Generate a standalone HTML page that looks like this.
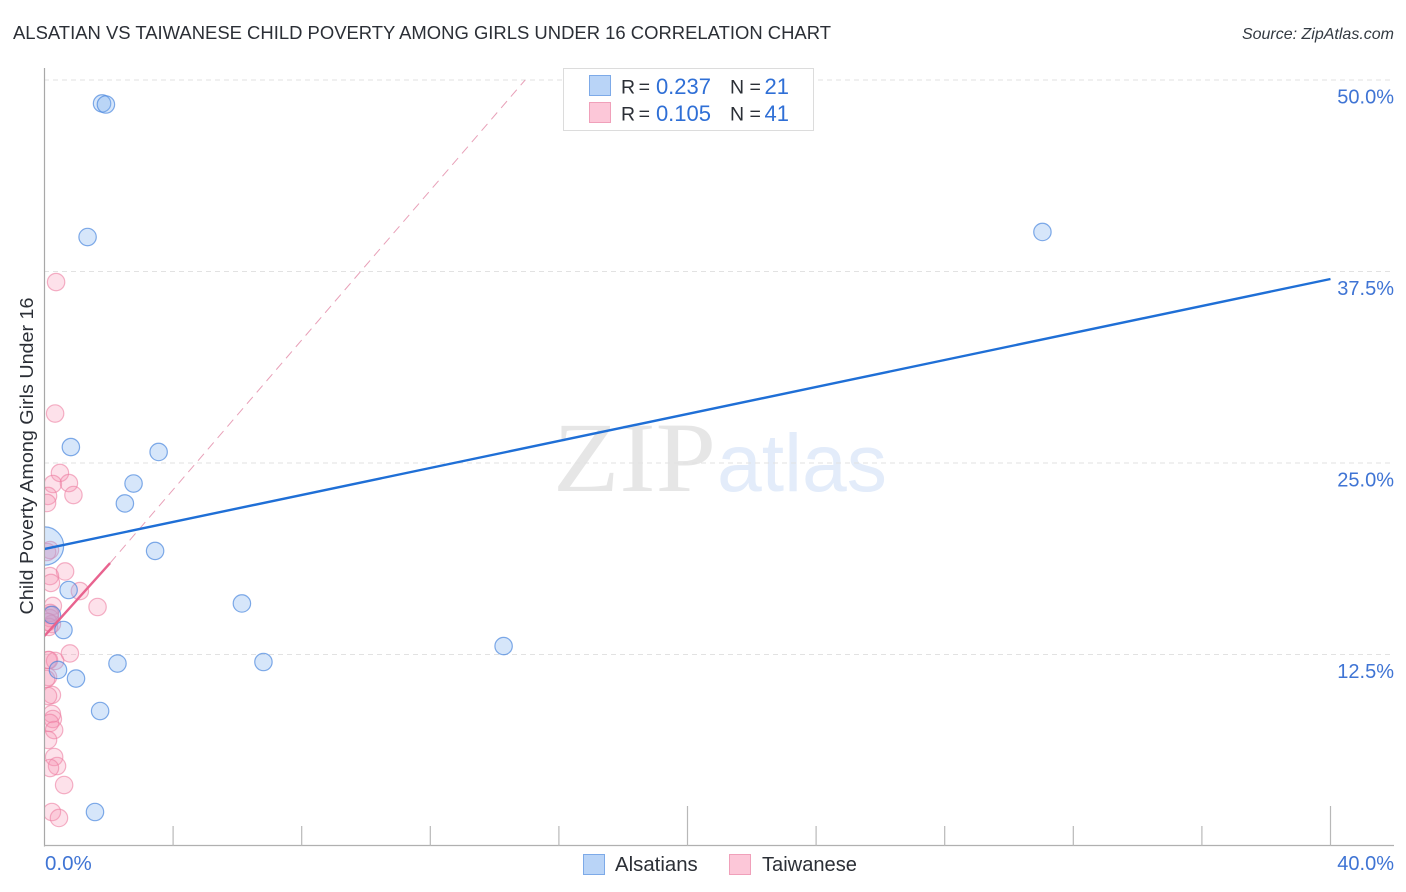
<!DOCTYPE html>
<html><head><meta charset="utf-8">
<style>
html,body{margin:0;padding:0;background:#fff;width:1406px;height:892px;overflow:hidden}
svg{display:block;font-family:"Liberation Sans",sans-serif}
</style></head>
<body>
<svg id="chart" width="1406" height="892" viewBox="0 0 1406 892">
<defs><clipPath id="plot-clip"><rect x="45" y="60" width="1350" height="786"/></clipPath></defs>
<text x="13" y="39" font-size="18.6" fill="#2b2f36" textLength="818" lengthAdjust="spacingAndGlyphs">ALSATIAN VS TAIWANESE CHILD POVERTY AMONG GIRLS UNDER 16 CORRELATION CHART</text>
<text x="1394" y="39" font-size="16" font-style="italic" fill="#333a42" text-anchor="end">Source: ZipAtlas.com</text>
<g>
<text x="553" y="491" font-family="'Liberation Serif',serif" font-size="100" fill="#e6e6e6" textLength="163" lengthAdjust="spacingAndGlyphs">ZIP</text>
<text x="717" y="491" font-size="82" fill="#e3ecfa" textLength="170" lengthAdjust="spacingAndGlyphs">atlas</text>
</g>
<g id="grid"></g>
<g id="axes"></g>
<text transform="translate(33,456) rotate(-90)" font-size="18.6" fill="#2b2f36" text-anchor="middle" textLength="317" lengthAdjust="spacingAndGlyphs">Child Poverty Among Girls Under 16</text>
<g clip-path="url(#plot-clip)">
<g id="pink-points"></g>
<g id="blue-points"></g>
<g id="trends"></g>
</g>
<g>
<rect x="563.5" y="68.5" width="250" height="62" fill="#fff" stroke="#dcdcdc"/>
<rect x="589.5" y="75.5" width="21" height="20" fill="#b9d4f7" stroke="#7daae8"/>
<rect x="589.5" y="102.5" width="21" height="20" fill="#fcc7d8" stroke="#f0a0ba"/>
<g font-size="19.5" fill="#2b2f36">
<text x="621" y="93.5" textLength="29" lengthAdjust="spacing">R =</text>
<text x="621" y="120.5" textLength="29" lengthAdjust="spacing">R =</text>
<text x="730" y="93.5">N =</text>
<text x="730" y="120.5">N =</text>
</g>
<g font-size="22" fill="#2f6fd6">
<text x="711" y="94" text-anchor="end">0.237</text>
<text x="711" y="121" text-anchor="end">0.105</text>
<text x="789" y="94" text-anchor="end">21</text>
<text x="789" y="121" text-anchor="end">41</text>
</g>
</g>
<g>
<rect x="583.5" y="854.5" width="21" height="20" fill="#b9d4f7" stroke="#7daae8"/>
<text x="615" y="871" font-size="20.4" fill="#2b2f36">Alsatians</text>
<rect x="729.5" y="854.5" width="21" height="20" fill="#fcc7d8" stroke="#f0a0ba"/>
<text x="762" y="871" font-size="20.1" fill="#2b2f36">Taiwanese</text>
</g>
</svg>
<script>
const yTickValues = [12.5, 25, 37.5, 50];
const yTickLabels = ["12.5%", "25.0%", "37.5%", "50.0%"];
const xTickValues = [0, 4, 8, 12, 16, 20, 24, 28, 32, 36, 40];
const xEndLabels = ["0.0%", "40.0%"];
const alsatianX = [1.79, 1.91, 1.34, 31.04, 0.82, 3.55, 2.77, 2.50, 3.44, 0.0, 0.75, 0.23, 0.59, 2.27, 6.81, 0.42, 0.98, 1.73, 6.14, 14.28, 1.57];
const alsatianY = [48.47, 48.40, 39.75, 40.08, 26.04, 25.72, 23.66, 22.36, 19.26, 19.58, 16.71, 15.08, 14.10, 11.91, 12.01, 11.49, 10.93, 8.81, 15.83, 13.05, 2.22];
const alsatianWeight = [1, 1, 1, 1, 1, 1, 1, 1, 1, 2.2, 1, 1, 1, 1, 1, 1, 1, 1, 1, 1, 1];
const taiwaneseX = [0.36, 0.33, 0.48, 0.26, 0.76, 0.90, 0.11, 0.08, 0.17, 0.08, 0.64, 0.17, 0.20, 1.10, 1.65, 0.26, 0.17, 0.17, 0.23, 0.14, 0.79, 0.11, 0.33, 0.11, 0.05, 0.23, 0.11, 0.23, 0.26, 0.17, 0.30, 0.11, 0.30, 0.39, 0.17, 0.61, 0.23, 0.45, 0.17, 0.11, 0.14];
const taiwaneseY = [36.81, 28.23, 24.35, 23.63, 23.69, 22.91, 22.85, 22.39, 19.32, 19.19, 17.92, 17.62, 17.17, 16.64, 15.60, 15.67, 15.08, 14.88, 14.49, 14.30, 12.57, 12.14, 12.08, 11.03, 10.90, 9.86, 9.79, 8.62, 8.29, 8.03, 7.57, 6.92, 5.81, 5.22, 5.09, 3.98, 2.22, 1.83, 15.21, 14.62, 12.14];
const alsatianTrendX = [0, 40];
const alsatianTrendY = [19.39, 37.01];
const taiwaneseTrendX = [0, 2.04];
const taiwaneseTrendY = [13.71, 18.47];
const taiwaneseDashX = [2.04, 14.95];
const taiwaneseDashY = [18.47, 50];

const NS = "http://www.w3.org/2000/svg";
function sx(v) { return 44.5 + v * (1330.5 - 44.5) / 40; }
function sy(v) { return 846 - v * (846 - 80) / 50; }
function mk(parent, tag, attrs) {
  const el = document.createElementNS(NS, tag);
  for (const k in attrs) el.setAttribute(k, attrs[k]);
  parent.appendChild(el);
  return el;
}
const grid = document.getElementById("grid");
const axes = document.getElementById("axes");
yTickValues.forEach(function (v, i) {
  const line = mk(grid, "line", { x1: 44, x2: 1394, y1: sy(v), y2: sy(v), stroke: "#e2e2e2", "stroke-width": 1, "stroke-dasharray": "5 4" });
  
  
  const t = mk(axes, "text", { x: 1394, y: sy(v) + 23.5, "font-size": 20, fill: "#3f74d4", "text-anchor": "end" });
  t.textContent = yTickLabels[i];
  
  
});
const yAxis = mk(axes, "line", { x1: 44.5, x2: 44.5, y1: 68, y2: 846.5, stroke: "#a8a8a8", "stroke-width": 1.2 });


const xAxis = mk(axes, "line", { x1: 44, x2: 1394, y1: 845.5, y2: 845.5, stroke: "#b0b0b0", "stroke-width": 1.2 });


xTickValues.slice(1).forEach(function (v) {
  const long = v === 20 || v === 40;
  const tick = mk(axes, "line", { x1: sx(v), x2: sx(v), y1: long ? 806 : 826, y2: 846, stroke: "#b8b8b8", "stroke-width": 1.2 });
  
  
});
const x0 = mk(axes, "text", { x: 45, y: 870, "font-size": 20.5, fill: "#3f74d4" });
x0.textContent = xEndLabels[0];


const x1 = mk(axes, "text", { x: 1394, y: 870, "font-size": 20, fill: "#3f74d4", "text-anchor": "end" });
x1.textContent = xEndLabels[1];



const pinkG = document.getElementById("pink-points");
taiwaneseX.forEach(function (v, i) {
  const c = mk(pinkG, "circle", { cx: sx(v), cy: sy(taiwaneseY[i]), r: 8.7, fill: "#f78fb0", "fill-opacity": 0.27, stroke: "#ec7fa2", "stroke-opacity": 0.6, "stroke-width": 1.2 });
  
  
});
const blueG = document.getElementById("blue-points");
alsatianX.forEach(function (v, i) {
  const c = mk(blueG, "circle", { cx: sx(v), cy: sy(alsatianY[i]), r: 8.7 * alsatianWeight[i], fill: "#7fb0ee", "fill-opacity": 0.32, stroke: "#3f80dc", "stroke-opacity": 0.65, "stroke-width": 1.2 });
  
  
});
const trends = document.getElementById("trends");
const dash = mk(trends, "line", { x1: sx(taiwaneseDashX[0]), y1: sy(taiwaneseDashY[0]), x2: sx(taiwaneseDashX[1]), y2: sy(taiwaneseDashY[1]), stroke: "#e8a0b8", "stroke-width": 1, "stroke-dasharray": "9 6" });


const blueTrend = mk(trends, "line", { x1: sx(alsatianTrendX[0]), y1: sy(alsatianTrendY[0]), x2: sx(alsatianTrendX[1]), y2: sy(alsatianTrendY[1]), stroke: "#1f6fd6", "stroke-width": 2.4 });


const pinkTrend = mk(trends, "line", { x1: sx(taiwaneseTrendX[0]), y1: sy(taiwaneseTrendY[0]), x2: sx(taiwaneseTrendX[1]), y2: sy(taiwaneseTrendY[1]), stroke: "#e8638f", "stroke-width": 2.4 });


</script>
</body></html>
